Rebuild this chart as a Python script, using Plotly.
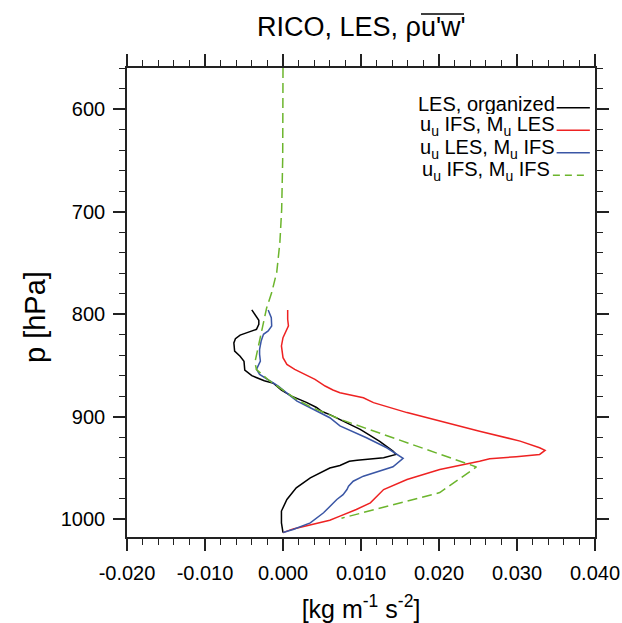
import plotly.graph_objects as go

# ---- data (pressure in hPa, flux in kg m-1 s-2) ----
p_les_org = [795.9, 801, 806, 810, 814.8, 818, 820.5, 824, 828, 836, 841, 846, 854.5, 860, 865,
             867.5, 874, 880, 886, 891, 895, 898, 903, 912.4, 924, 933.6, 936.8, 940, 942.5,
             943.4, 947.6, 950, 959.6, 969.4, 980.7, 992, 1003.5, 1010, 1013]
x_les_org = [-0.0040, -0.0035, -0.0031, -0.0031, -0.0034, -0.0046, -0.0055, -0.0061, -0.0063,
             -0.0062, -0.0055, -0.0050, -0.0049, -0.0040, -0.0024, -0.0012, -0.0002, 0.0011,
             0.0030, 0.0043, 0.0050, 0.0060, 0.0073, 0.0099, 0.0124, 0.0141, 0.0145, 0.0129,
             0.0095, 0.0085, 0.0073, 0.0060, 0.0035, 0.0017, 0.0005, -0.0002, -0.0002, 0.0000,
             0.0000]

p_ifs_les = [795.9, 805, 811.5, 817, 822.9, 831, 842.4, 849, 853.8, 863.6, 870.1, 874, 876.6,
             881.5, 886.3, 896, 904.3, 914.1, 923.8, 930.3, 932.9, 936.8, 939, 941, 943.4, 951.5,
             961.2, 971, 984, 990.5, 997, 1001, 1009.4, 1013]
x_ifs_les = [0.0006, 0.0006, 0.0007, 0.0004, 0.0000, -0.0002, 0.0000, 0.0005, 0.0015, 0.0041,
             0.0054, 0.0064, 0.0073, 0.0103, 0.0116, 0.0159, 0.0201, 0.0252, 0.0304, 0.0329,
             0.0336, 0.0329, 0.0299, 0.0265, 0.0252, 0.0201, 0.0159, 0.0129, 0.0112, 0.0094,
             0.0073, 0.0060, 0.0013, 0.0000]

p_les_ifs = [795.9, 803.4, 811.5, 816.4, 819.7, 826.2, 834.3, 839.2, 845.7, 853.8, 858.7, 863.6,
             870.1, 878.2, 884.8, 891.3, 901, 909, 920.5, 930.3, 940.7, 948.8, 953.1, 958, 962.9,
             967.8, 971, 976, 980.7, 993.7, 1003.5, 1010, 1013]
x_les_ifs = [-0.0019, -0.0015, -0.00145, -0.0019, -0.0025, -0.0028, -0.0030, -0.0030, -0.0029,
             -0.0034, -0.0030, -0.0019, -0.0006, 0.0007, 0.0018, 0.0035, 0.0060, 0.0073, 0.0107,
             0.0133, 0.0154, 0.0141, 0.0124, 0.0103, 0.0090, 0.0084, 0.0082, 0.0077, 0.0069,
             0.0052, 0.0035, 0.0013, 0.0000]

p_ifs_ifs = [560, 600, 649, 698, 730, 759, 779, 794, 815, 847, 854, 864, 873, 883, 891, 903,
             949, 974, 999]
x_ifs_ifs = [0.0000, 0.0000, -0.00004, -0.00017, -0.0004, -0.0008, -0.00145, -0.0021, -0.0027,
             -0.0036, -0.0034, -0.0019, -0.0002, 0.0017, 0.0037, 0.0075, 0.0248, 0.0201, 0.0075]

series_names = ["LES, organized",
                "u<sub>u</sub> IFS, M<sub>u</sub> LES",
                "u<sub>u</sub> LES, M<sub>u</sub> IFS",
                "u<sub>u</sub> IFS, M<sub>u</sub> IFS"]
series_colors = ["#000000", "#ee2222", "#3a56a5", "#6cb52d"]
series_dash = ["solid", "solid", "solid", "10px,5px"]
series_x = [x_les_org, x_ifs_les, x_les_ifs, x_ifs_ifs]
series_p = [p_les_org, p_ifs_les, p_les_ifs, p_ifs_ifs]

x_ticks = [-0.02, -0.01, 0.0, 0.01, 0.02, 0.03, 0.04]
y_ticks = [600, 700, 800, 900, 1000]

FONT = "Liberation Sans, Arial, sans-serif"

fig = go.Figure()
for xs, ps, name, col, dash in zip(series_x, series_p, series_names, series_colors, series_dash):
    fig.add_trace(go.Scatter(x=xs, y=ps, mode="lines", name=name, showlegend=False,
                             line=dict(color=col, width=1.5, dash=dash)))

# legend (text on the left, line sample on the right, as in the reference)
leg_y = [0.9154, 0.8674, 0.8194, 0.7714]
for i, (name, col, dash) in enumerate(zip(series_names, series_colors, series_dash)):
    fig.add_annotation(xref="paper", yref="paper", x=0.918 if i < 3 else 0.908,
                       y=leg_y[i] + 0.008, height=20,
                       xanchor="right", yanchor="middle", showarrow=False, text=name,
                       font=dict(family=FONT, size=20, color="black"))
    fig.add_shape(type="line", xref="paper", yref="paper",
                  x0=0.918 if i < 3 else 0.91, x1=0.989 if i < 3 else 0.983,
                  y0=leg_y[i], y1=leg_y[i],
                  line=dict(color=col, width=1.5, dash="solid" if dash == "solid" else "7px,5px"))

axis_common = dict(showgrid=False, zeroline=False, showline=True, linecolor="#222",
                   linewidth=1.6, mirror="allticks", ticks="outside", ticklen=12,
                   tickwidth=1.5, tickcolor="#222", automargin=False,
                   tickfont=dict(family=FONT, size=20, color="black"))

fig.update_xaxes(range=[-0.02, 0.04], tickvals=x_ticks,
                 ticktext=[f"{v:.3f}" for v in x_ticks],
                 minor=dict(dtick=0.002, ticks="outside", ticklen=6, tickwidth=1.2,
                            tickcolor="#222", showgrid=False),
                 ticklabelstandoff=5,
                 title=dict(text="[kg m<sup>-1</sup> s<sup>-2</sup>]",
                            font=dict(family=FONT, size=25, color="black"), standoff=18),
                 **axis_common)
fig.update_yaxes(range=[1017.3, 560], tickvals=y_ticks,
                 minor=dict(dtick=20, tick0=600, ticks="outside", ticklen=6, tickwidth=1.2,
                            tickcolor="#222", showgrid=False),
                 ticklabelstandoff=4,
                 **axis_common)

# y-axis title placed like the reference (slightly below the axis middle)
fig.add_annotation(xref="paper", yref="paper", x=(35 - 127) / 468, y=(537 - 317) / 469,
                   xanchor="center", yanchor="middle", textangle=-90, showarrow=False,
                   text="p [hPa]", font=dict(family=FONT, size=29, color="black"))

# title with overline over u'w'
fig.add_annotation(xref="paper", yref="paper", x=0.5, y=(537 - 27) / 469,
                   xanchor="center", yanchor="middle", showarrow=False,
                   text="RICO, LES, \u03c1u'w'", font=dict(family=FONT, size=27, color="black"))
fig.add_shape(type="line", xref="paper", yref="paper",
              x0=(421 - 127) / 468, x1=(464 - 127) / 468,
              y0=(537 - 14) / 469, y1=(537 - 14) / 469,
              line=dict(color="black", width=1.4))

fig.update_layout(
    width=622, height=623,
    margin=dict(l=127, r=27, t=68, b=86),
    paper_bgcolor="white", plot_bgcolor="white",
)

fig.write_html("out.html", config={"displayModeBar": False},
               post_script="document.body.style.margin='0';document.body.style.overflow='hidden';")
